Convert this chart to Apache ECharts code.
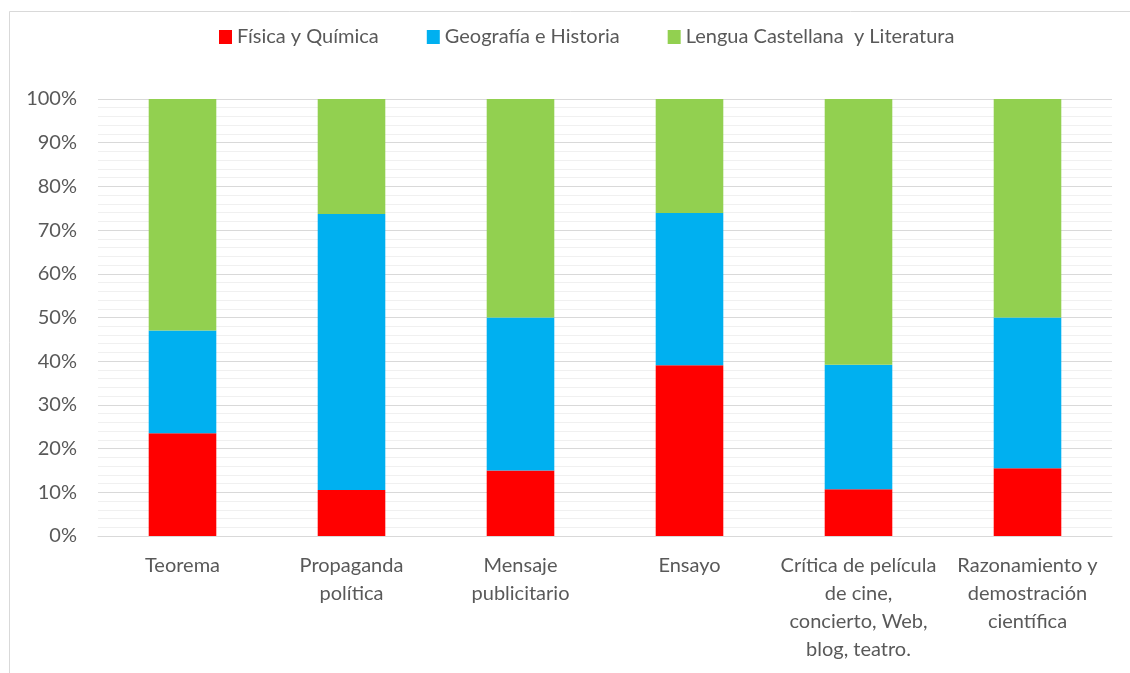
<!DOCTYPE html>
<html>
<head>
<meta charset="utf-8">
<script src="https://cdn.jsdelivr.net/npm/echarts@6/dist/echarts.min.js"></script>
<style>
html,body{margin:0;padding:0;background:#fff;}
#c{width:1130px;height:673px;}
</style>
</head>
<body>
<div id="c"></div>
<script>
var categories = ["Teorema", "Propaganda\npolítica", "Mensaje\npublicitario", "Ensayo", "Crítica de película\nde cine,\nconcierto, Web,\nblog, teatro.", "Razonamiento y\ndemostración\ncientífica"];
var seriesNames = ["Física y Química", "Geografía e Historia", "Lengua Castellana  y Literatura"];
var fisica = [23.5, 10.5, 15.0, 39.1, 10.7, 15.5];
var geografia = [23.5, 63.2, 35.0, 34.8, 28.5, 34.5];
var lengua = [53.0, 26.3, 50.0, 26.1, 60.8, 50.0];
var colors = ["#FF0000", "#00B0F0", "#92D050"];

var font = "Lato, 'Open Sans', sans-serif";
var chart = echarts.init(document.getElementById('c'), null, {renderer: 'canvas'});
function mk(name, data, color) {
  return {name: name, type: 'bar', stack: 'total', data: data, barWidth: '40%',
    itemStyle: {color: color}, emphasis: {disabled: true}};
}
chart.setOption({
  animation: false,
  backgroundColor: '#fff',
  graphic: [{type: 'rect', shape: {x: 9.5, y: 11.5, width: 1300, height: 800},
    style: {fill: 'none', stroke: '#d9d9d9', lineWidth: 1}, silent: true}],
  legend: {
    top: 22, left: 214, itemWidth: 13, itemHeight: 14, itemGap: 48,
    icon: 'rect',
    textStyle: {fontFamily: font, fontSize: 20, color: '#595959', padding: [0, 0, 0, 0]},
    data: seriesNames
  },
  grid: {left: 98, right: 18, top: 99, bottom: 137, containLabel: false},
  xAxis: {
    type: 'category', data: categories,
    axisLine: {lineStyle: {color: '#d9d9d9'}},
    axisTick: {show: false},
    axisLabel: {interval: 0, margin: 16, fontFamily: font, fontSize: 20, color: '#595959', lineHeight: 28}
  },
  yAxis: {
    type: 'value', min: 0, max: 100, interval: 10,
    axisLabel: {formatter: '{value}%', fontFamily: font, fontSize: 20, color: '#595959', margin: 21},
    axisLine: {show: false}, axisTick: {show: false},
    splitLine: {lineStyle: {color: '#d9d9d9'}},
    minorTick: {show: false, splitNumber: 5},
    minorSplitLine: {show: true, lineStyle: {color: '#f0f0f0'}}
  },
  series: [mk(seriesNames[0], fisica, colors[0]), mk(seriesNames[1], geografia, colors[1]), mk(seriesNames[2], lengua, colors[2])]
});
</script>
</body>
</html>
